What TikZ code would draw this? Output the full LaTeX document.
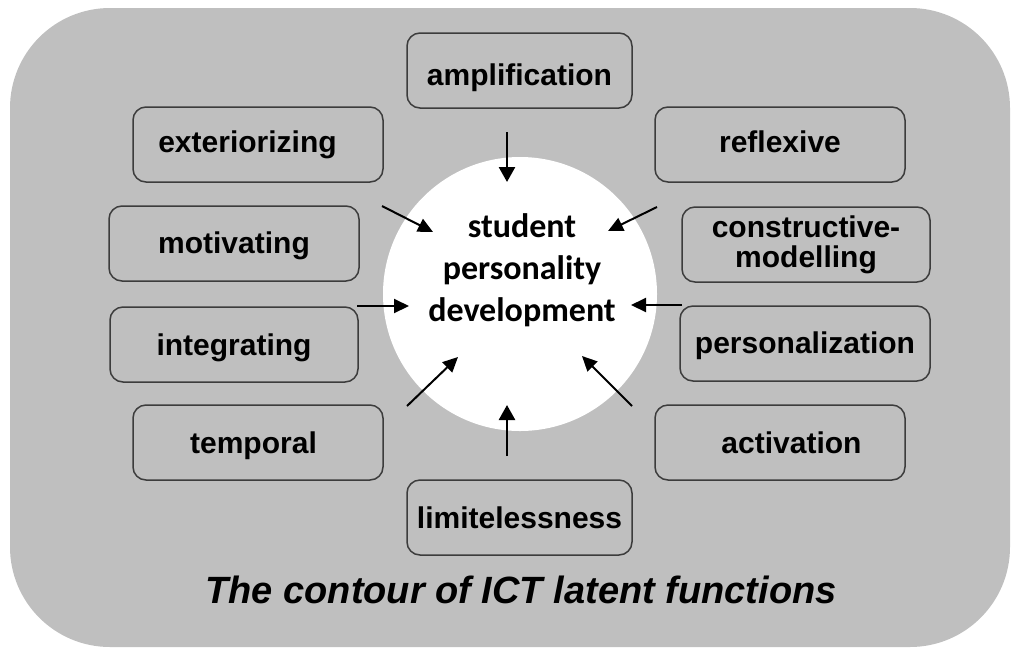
\documentclass[tikz,border=0pt]{standalone}
\usepackage{fontspec}
\setmainfont{Liberation Sans}
\newfontfamily\carlfont{Carlito}
\usetikzlibrary{arrows.meta}
\definecolor{bggray}{RGB}{191,191,191}
\definecolor{boxline}{RGB}{60,60,60}
\tikzset{
  fbox/.style={draw=boxline, line width=1.5pt, rounded corners=13pt,
    minimum width=250pt, minimum height=75pt, inner sep=0pt,
    font=\bfseries\fontsize{30}{31}\selectfont, text height=21.5pt, text depth=0pt},
  fboxml/.style={draw=boxline, line width=1.5pt, rounded corners=13pt,
    minimum width=248pt, minimum height=75pt, inner sep=0pt, align=center,
    font=\bfseries\fontsize{30}{30}\selectfont},
  arr/.style={line width=2pt, -{Triangle[length=15pt,width=14pt]}},
  varr/.style={line width=2.6pt, -{Triangle[length=15pt,width=16pt]}},
}
\begin{document}
\begin{tikzpicture}[x=1pt,y=-1pt]
\useasboundingbox (0,0) rectangle (1015,649);
\fill[bggray, rounded corners=100pt] (10,8) rectangle (1010,647);
\node[circle, fill=white, minimum size=274pt, inner sep=0pt] (circ) at (520,294) {};
\node[inner sep=0pt, align=center, font=\carlfont\bfseries\fontsize{34}{42}\selectfont] (stxt) at (522,270.5) {student\\personality\\development};

\node[fbox, minimum width=225pt, text height=29pt] (amp) at (519.5,70.5) {amplification};
\node[fbox, text height=16pt] (ext) at (258,144.5) {\hspace*{-21pt}exteriorizing};
\node[fbox, text height=15pt] (refl) at (780,144.5) {reflexive};
\node[fboxml] (cons) at (806,244.5) {constructive-\\modelling};
\node[fbox, minimum width=250pt, text height=19pt] (motiv) at (234,243.5) {motivating};
\node[fbox, minimum width=248pt] (integ) at (234,344.5) {integrating};
\node[fbox, text height=19pt] (pers) at (805,343.5) {personalization};
\node[fbox] (temp) at (258,442.5) {\hspace*{-9pt}temporal};
\node[fbox] (activ) at (780,442.5) {\hspace*{23pt}activation};
\node[fbox, minimum width=225pt] (limit) at (519.5,517.5) {limitelessness};

\node[font=\bfseries\itshape\fontsize{38}{40}\selectfont, inner sep=0pt, anchor=base] (title) at (521,603) {The contour of ICT latent functions};

\coordinate (a1s) at (507,132); \coordinate (a1e) at (507,182);
\coordinate (a2s) at (382,206); \coordinate (a2e) at (433,232);
\coordinate (a3s) at (657,207); \coordinate (a3e) at (608,231);
\coordinate (a4s) at (357,306); \coordinate (a4e) at (409,306);
\coordinate (a5s) at (682,305); \coordinate (a5e) at (631,305);
\coordinate (a6s) at (407,406); \coordinate (a6e) at (458,357);
\coordinate (a7s) at (632,406); \coordinate (a7e) at (582,356);
\coordinate (a8s) at (507,456); \coordinate (a8e) at (507,405);
\draw[varr] (a1s) -- (a1e);
\draw[arr] (a2s) -- (a2e);
\draw[arr] (a3s) -- (a3e);
\draw[arr] (a4s) -- (a4e);
\draw[arr] (a5s) -- (a5e);
\draw[arr] (a6s) -- (a6e);
\draw[arr] (a7s) -- (a7e);
\draw[varr] (a8s) -- (a8e);
\end{tikzpicture}
\end{document}
